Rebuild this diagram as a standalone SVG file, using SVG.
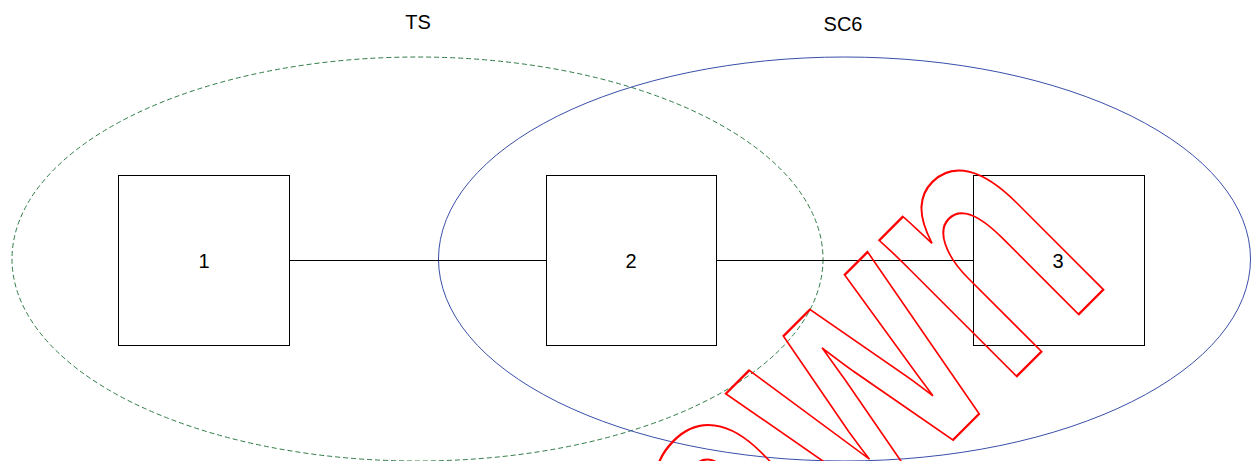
<svg xmlns="http://www.w3.org/2000/svg" width="1255" height="461" viewBox="0 0 1255 461">
<style>
.box{fill:none;stroke:#000;stroke-width:1}
.lbl{font-family:"Liberation Sans",Arial,sans-serif;font-size:20px;fill:#000;text-anchor:middle}
.conn{stroke:#000;stroke-width:1;fill:none}
.wm{font-family:"Liberation Sans",Arial,sans-serif;font-weight:bold;font-size:366px;fill:none;stroke:#ff0000;stroke-width:2}
</style>
<rect width="1255" height="461" fill="#fff"/>
<g id="group-TS">
<ellipse cx="417.5" cy="259" rx="405.5" ry="202" fill="none" stroke="#2e7d45" stroke-width="1" stroke-dasharray="5,3"/>
<text class="lbl" x="418" y="29">TS</text>
</g>
<g id="group-SC6">
<ellipse cx="844.5" cy="259" rx="406" ry="202" fill="none" stroke="#3a4fa8" stroke-width="1"/>
<text class="lbl" x="843" y="31">SC6</text>
</g>
<g id="connectors">
<line class="conn" x1="289.5" y1="260.5" x2="546.5" y2="260.5"/>
<line class="conn" x1="716.5" y1="260.5" x2="973.5" y2="260.5"/>
</g>
<g id="node-1">
<rect class="box" x="118.5" y="175.5" width="171" height="170"/>
<text class="lbl" x="204" y="268">1</text>
</g>
<g id="node-2">
<rect class="box" x="546.5" y="175.5" width="170" height="170"/>
<text class="lbl" x="631" y="268">2</text>
</g>
<g id="node-3">
<rect class="box" x="973.5" y="175.5" width="171" height="170"/>
<text class="lbl" x="1058" y="268">3</text>
</g>
<g id="watermark">
<text class="wm" transform="translate(561 832) rotate(-45) scale(0.7 1)" vector-effect="non-scaling-stroke" style="vector-effect:non-scaling-stroke">Drawn</text>
</g>
</svg>
